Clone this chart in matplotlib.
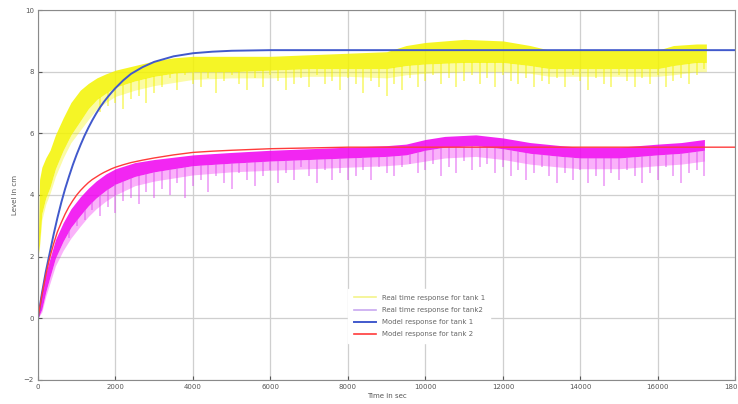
import matplotlib
matplotlib.use("Agg")
import numpy as np
import matplotlib.pyplot as plt
from matplotlib.lines import Line2D

# ------------------------------------------------------------
# data (time in sec, level in cm)
# ------------------------------------------------------------
# real time response tank 1: upper / lower edge of the dense band,
# plus the bottom of the lighter "hazy" noise area under it
t1_env = [0, 40, 100, 200, 310, 450, 650, 850, 1090, 1300, 1520, 1750, 2000, 2500,
          3000, 3500, 4000, 5000, 6000, 7000, 8000, 9000, 9500, 10000, 11000, 12000,
          12700, 13200, 14000, 15000, 16000, 16400, 17000, 17250]
t1_top = [2.0, 4.5, 4.9, 5.2, 5.45, 5.95, 6.5, 7.0, 7.4, 7.62, 7.8, 7.93, 8.05, 8.2,
          8.35, 8.45, 8.5, 8.5, 8.5, 8.55, 8.6, 8.65, 8.85, 8.95, 9.05, 9.0,
          8.85, 8.7, 8.7, 8.7, 8.7, 8.85, 8.9, 8.9]
t1_low = [2.0, 2.4, 3.4, 3.9, 4.25, 4.85, 5.45, 5.95, 6.4, 6.8, 7.1, 7.3, 7.5, 7.7,
          7.85, 7.95, 8.0, 8.0, 8.05, 8.1, 8.1, 8.1, 8.2, 8.25, 8.3, 8.3,
          8.2, 8.1, 8.1, 8.1, 8.1, 8.2, 8.3, 8.3]
t1_haze = [2.0, 2.3, 3.2, 3.7, 4.05, 4.6, 5.2, 5.7, 6.1, 6.45, 6.8, 7.0, 7.2, 7.4,
           7.55, 7.65, 7.75, 7.8, 7.8, 7.85, 7.85, 7.8, 7.9, 7.95, 8.0, 8.0,
           7.95, 7.85, 7.85, 7.85, 7.85, 7.9, 8.0, 8.0]
# downward spikes of tank 1 (one every 200 s from 1600 s)
spk1_t = list(range(1600, 17201, 200))
spk1_y = [6.7, 6.9, 7.0, 6.8, 7.1, 7.2, 7.0, 7.3,
          7.5, 7.8, 7.4, 7.9, 7.6, 7.5, 7.8, 7.3, 7.7, 7.9, 7.6, 7.4, 7.8, 7.5, 7.9,
          7.7, 7.4, 7.6, 7.8, 7.5, 7.9, 7.6, 7.7, 7.4, 7.8,
          7.6, 7.3, 7.7, 7.5, 7.2, 7.6, 7.4, 7.8, 7.5, 7.7, 7.9, 7.6, 7.8, 7.5, 7.7,
          7.9, 7.6, 7.8, 7.5, 7.9, 7.7, 7.6, 7.8, 7.5, 7.7,
          7.6, 7.8, 7.5, 7.9, 7.7, 7.4, 7.8, 7.6, 7.5, 7.9, 7.7, 7.5, 7.8, 7.6, 7.9,
          7.5, 7.7, 7.8, 7.6, 7.9, 8.1]

# real time response tank 2
t2_env = [0, 100, 200, 300, 450, 650, 850, 1100, 1300, 1500, 1750, 2000, 2500, 3000,
          4000, 5000, 6000, 7000, 8000, 9000, 9500, 10000, 10500, 11300, 12000, 12700,
          13500, 14000, 15000, 15500, 16000, 16600, 17200]
t2_top = [0.0, 0.9, 1.45, 1.9, 2.55, 3.1, 3.55, 3.95, 4.22, 4.45, 4.68, 4.85, 5.05,
          5.15, 5.3, 5.38, 5.45, 5.5, 5.55, 5.6, 5.65, 5.8, 5.9, 5.95, 5.85, 5.7,
          5.6, 5.55, 5.55, 5.6, 5.65, 5.7, 5.8]
t2_low = [0.0, 0.3, 0.85, 1.3, 1.95, 2.5, 2.95, 3.35, 3.65, 3.9, 4.15, 4.35, 4.6,
          4.75, 4.95, 5.03, 5.1, 5.15, 5.2, 5.25, 5.3, 5.45, 5.55, 5.6, 5.5, 5.35,
          5.25, 5.2, 5.2, 5.25, 5.3, 5.35, 5.45]
t2_haze = [0.0, 0.2, 0.7, 1.1, 1.7, 2.2, 2.6, 3.0, 3.3, 3.55, 3.8, 4.0, 4.3,
           4.45, 4.65, 4.75, 4.8, 4.85, 4.9, 4.95, 5.0, 5.1, 5.2, 5.25, 5.15, 5.0,
           4.9, 4.85, 4.85, 4.9, 4.95, 5.0, 5.1]
# downward spikes of tank 2 (one every 200 s from 800 s)
spk2_t = list(range(800, 17201, 200))
spk2_y = [2.6, 3.0, 3.2, 3.5, 3.3, 3.6, 3.4, 3.8, 3.9, 3.7, 4.1, 3.9,
          4.2, 4.0, 4.4, 3.9, 4.3, 4.5, 4.1, 4.6, 4.4, 4.2, 4.7, 4.5, 4.3, 4.6,
          4.8, 4.4, 4.7, 4.5, 4.9, 4.6, 4.4, 4.8, 4.5, 4.7, 4.5,
          4.6, 4.8, 4.5, 4.9, 4.7, 4.6, 4.9, 5.0, 4.7, 4.8, 5.0, 4.6, 4.9, 4.7,
          5.1, 4.8, 4.9, 5.0, 4.7, 4.9, 4.6, 4.8, 4.5, 4.7, 4.9,
          4.6, 4.4, 4.7, 4.5, 4.8, 4.4, 4.6, 4.3, 4.7, 4.5, 4.8, 4.6, 4.4, 4.7,
          4.5, 4.9, 4.6, 4.4, 4.7, 4.8, 4.6]

# model responses
t_model = [0, 100, 200, 300, 400, 500, 600, 700, 800, 900, 1000, 1100, 1200, 1300,
           1400, 1500, 1600, 1700, 1800, 1900, 2000, 2200, 2400, 2700, 3000, 3500,
           4000, 4500, 5000, 6000, 8000, 18000]
y1_model = [0.0, 0.8, 1.5, 2.1, 2.7, 3.25, 3.75, 4.2, 4.6, 4.98, 5.32, 5.63, 5.92,
            6.18, 6.42, 6.64, 6.84, 7.02, 7.18, 7.33, 7.47, 7.72, 7.93, 8.15, 8.32,
            8.5, 8.6, 8.65, 8.68, 8.7, 8.7, 8.7]
y2_model = [0.0, 0.75, 1.4, 1.95, 2.4, 2.8, 3.1, 3.38, 3.62, 3.82, 4.0, 4.15, 4.28,
            4.4, 4.5, 4.58, 4.66, 4.73, 4.79, 4.85, 4.9, 4.98, 5.05, 5.13, 5.2, 5.3,
            5.38, 5.42, 5.45, 5.5, 5.55, 5.55]

x_ticks = [0, 2000, 4000, 6000, 8000, 10000, 12000, 14000, 16000, 18000]
y_ticks = [-2, 0, 2, 4, 6, 8, 10]
labels = ["Real time response for tank 1", "Real time response for tank2",
          "Model response for tank 1", "Model response for tank 2"]

YEL = "#f4f400"
MAG = "#f000f0"
BLU = "#4159cc"
RED = "#ff3b3b"

fig = plt.figure(figsize=(7.38, 4.04), dpi=100)
ax = fig.add_axes([0.0515, 0.06, 0.945, 0.915])

# tank 1: dense band, light haze and spikes hanging below the band
ax.fill_between(t1_env, t1_haze, t1_low, color=YEL, lw=0, alpha=0.35)
ax.fill_between(t1_env, t1_low, t1_top, color=YEL, lw=0, alpha=0.85)
ax.vlines(spk1_t, spk1_y, np.interp(spk1_t, t1_env, t1_low),
          color=YEL, lw=1.1, alpha=0.6)
# tank 2
ax.fill_between(t2_env, t2_haze, t2_low, color=MAG, lw=0, alpha=0.3)
ax.fill_between(t2_env, t2_low, t2_top, color=MAG, lw=0, alpha=0.85)
ax.vlines(spk2_t, spk2_y, np.interp(spk2_t, t2_env, t2_low),
          color="#e050f0", lw=1.1, alpha=0.6)

ax.plot(t_model, y1_model, color=BLU, lw=1.4)
ax.plot(t_model, y2_model, color=RED, lw=1.0)

ax.set_xlim(0, 18000)
ax.set_ylim(-2, 10)
ax.set_xticks(x_ticks)
ax.set_yticks(y_ticks)
ax.tick_params(direction="in", length=3, labelsize=5, colors="#555555", pad=3)
ax.grid(True, color="#cfcfcf", lw=0.9)
ax.set_axisbelow(True)
for s in ax.spines.values():
    s.set_color("#8a8a8a")
    s.set_linewidth(0.8)

ax.set_xlabel("Time in sec", fontsize=5, color="#555555", labelpad=2)
ax.set_ylabel("Level in cm", fontsize=5, color="#555555", labelpad=4)

handles = [Line2D([], [], color="#f4f48a", lw=1.2),
           Line2D([], [], color="#c8a8f0", lw=1.2),
           Line2D([], [], color=BLU, lw=1.4),
           Line2D([], [], color=RED, lw=1.2)]
leg = ax.legend(handles, labels, loc="lower left", bbox_to_anchor=(0.44, 0.09),
                fontsize=5, frameon=True, fancybox=False, framealpha=1,
                edgecolor="white", handlelength=3.2, labelspacing=0.9,
                borderpad=0.8)
for t in leg.get_texts():
    t.set_color("#666666")

fig.savefig("out.png", dpi=100)
